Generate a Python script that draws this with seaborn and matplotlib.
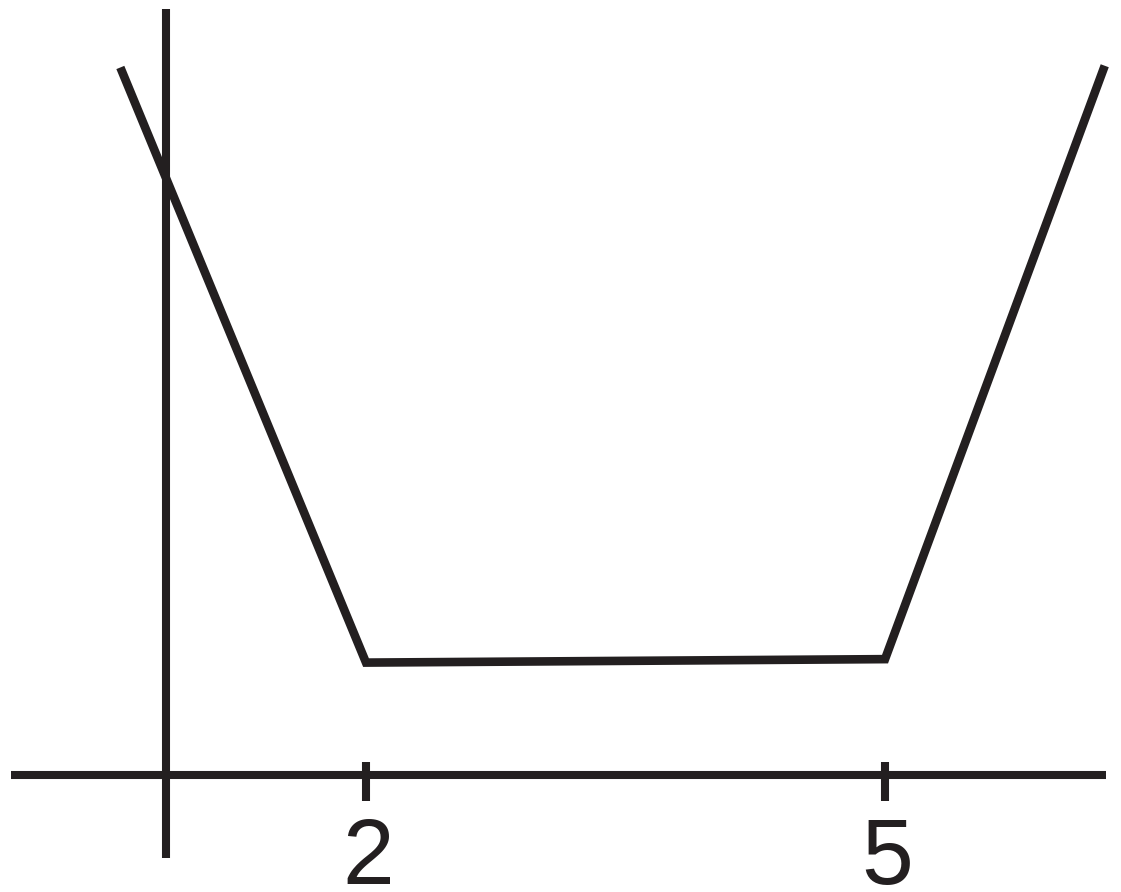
import numpy as np
import pandas as pd
import seaborn as sns
import matplotlib.pyplot as plt

# Piecewise linear function (sketch coordinates, kinks at x = 2 and x = 5)
x_pts = [0.58, 2.0, 5.0, 6.27]
y_pts = [4.09, 0.65, 0.67, 4.10]

# axis extents and tick labels
x_axis = [-0.05, 6.28]
y_axis = [-0.48, 4.43]
y_axis_pos = 0.845
tick_pos = [2, 5]
tick_labels = ['2', '5']

ink = '#231f20'

sns.set_style('white')
plt.rcParams['font.family'] = ['Liberation Sans', 'DejaVu Sans']

fig = plt.figure(figsize=(11.21, 8.92), dpi=100)
ax = fig.add_axes([0, 0, 1, 1])

# axes drawn as plain lines
ax.plot(x_axis, [0, 0], color=ink, lw=5.8, solid_capstyle='butt')
ax.plot([y_axis_pos, y_axis_pos], y_axis, color=ink, lw=5.8, solid_capstyle='butt')
for t in tick_pos:
    ax.plot([t, t], [-0.15, 0.075], color=ink, lw=5.8, solid_capstyle='butt')

# the function
df = pd.DataFrame({'x': x_pts, 'y': y_pts})
sns.lineplot(data=df, x='x', y='y', sort=False, color=ink, lw=6.2, ax=ax)
for l in ax.lines[-1:]:
    l.set_solid_capstyle('butt')
    l.set_solid_joinstyle('miter')

for t, lab in zip(tick_pos, tick_labels):
    ax.text(t + 0.01, -0.24, lab, ha='center', va='top', fontsize=67, color=ink)

ax.set_xlim(-0.1156, 6.364)
ax.set_ylim(-0.676, 4.48)
ax.axis('off')

fig.savefig('out.png', dpi=100)
